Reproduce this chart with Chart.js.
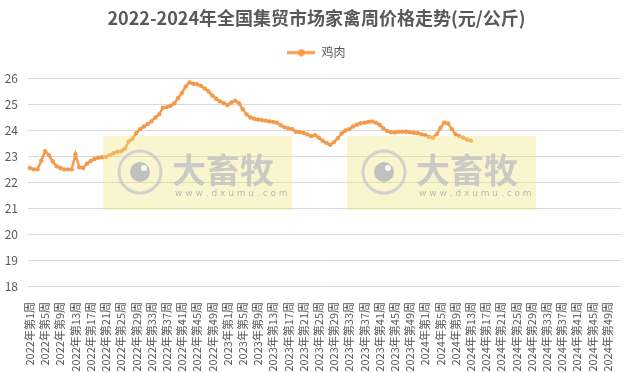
<!DOCTYPE html>
<html>
<head>
<meta charset="utf-8">
<title>2022-2024年全国集贸市场家禽周价格走势</title>
<script src="https://cdn.jsdelivr.net/npm/chart.js@4.4.1/dist/chart.umd.min.js"></script>
<style>
  html, body { margin: 0; padding: 0; background: #fff; }
</style>
</head>
<body>
<canvas id="price-chart" width="633" height="373"></canvas>
<script>
// Chart data
const years = [2022, 2023, 2024];
const weeksPerYear = 52;
const categories = [];
years.forEach(y => {
  for (let w = 1; w <= weeksPerYear; w++) categories.push(`${y}年第${w}周`);
});

const seriesName = '鸡肉';
// 2022 week 1 .. 2024 week 13
const chickenPrice = [
  22.55, 22.50, 22.50, 22.83, 23.20, 23.05, 22.80, 22.62, 22.55, 22.50,
  22.50, 22.50, 23.08, 22.58, 22.55, 22.72, 22.82, 22.90, 22.95, 22.97,
  22.98, 23.05, 23.12, 23.18, 23.20, 23.30, 23.58, 23.68, 23.90, 24.05,
  24.15, 24.25, 24.35, 24.50, 24.62, 24.88, 24.90, 24.95, 25.05, 25.25,
  25.45, 25.70, 25.85, 25.80, 25.78, 25.72, 25.62, 25.50, 25.35, 25.22,
  25.12, 25.05, 24.98, 25.08, 25.15, 25.05, 24.82, 24.62, 24.50, 24.45,
  24.42, 24.40, 24.38, 24.35, 24.33, 24.30, 24.20, 24.12, 24.08, 24.05,
  23.95, 23.94, 23.90, 23.85, 23.78, 23.82, 23.72, 23.60, 23.52, 23.45,
  23.55, 23.70, 23.88, 24.00, 24.05, 24.15, 24.22, 24.28, 24.30, 24.33,
  24.35, 24.30, 24.22, 24.08, 23.98, 23.93, 23.92, 23.95, 23.95, 23.95,
  23.93, 23.91, 23.90, 23.85, 23.82, 23.75, 23.72, 23.85, 24.10, 24.30,
  24.27, 24.05, 23.85, 23.78, 23.72, 23.65, 23.60
];

const yMin = 18;
const yMax = 26;
const yStep = 1;
const labelEvery = 4;

const lineColor = '#F5994A';
const textColor = '#595959';
const gridColor = '#D9D9D9';
const fontFamily = "'Noto Sans CJK SC', 'Noto Sans', sans-serif";

// Legend marker: short line with a dot in the middle
const legendMark = document.createElement('canvas');
legendMark.width = 28;
legendMark.height = 8;
const lg = legendMark.getContext('2d');
lg.strokeStyle = lineColor;
lg.lineWidth = 3;
lg.beginPath();
lg.moveTo(0, 4);
lg.lineTo(28, 4);
lg.stroke();
lg.fillStyle = lineColor;
lg.beginPath();
lg.arc(14, 4, 3.5, 0, Math.PI * 2);
lg.fill();

// Extra room under the legend
const legendSpacing = {
  id: 'legendSpacing',
  beforeInit(chart) {
    const fit = chart.legend.fit;
    chart.legend.fit = function () {
      fit.call(this);
      this.height += 10;
    };
  }
};

// Watermark stamps drawn over the plot
const watermarkPlugin = {
  id: 'watermark',
  afterDatasetsDraw(chart) {
    const ctx = chart.ctx;
    [103, 347].forEach(x0 => {
      const y0 = 136;
      ctx.save();
      ctx.fillStyle = 'rgba(240, 230, 130, 0.38)';
      ctx.fillRect(x0, y0, 189, 74);
      // logo
      ctx.strokeStyle = 'rgba(205, 205, 205, 0.9)';
      ctx.lineWidth = 3;
      ctx.beginPath();
      ctx.arc(x0 + 37, y0 + 36, 21, 0, Math.PI * 2);
      ctx.stroke();
      ctx.fillStyle = 'rgba(190, 190, 190, 0.95)';
      ctx.beginPath();
      ctx.arc(x0 + 37, y0 + 36, 10, 0, Math.PI * 2);
      ctx.fill();
      ctx.fillStyle = 'rgba(255, 255, 255, 0.9)';
      ctx.beginPath();
      ctx.arc(x0 + 41, y0 + 32, 3, 0, Math.PI * 2);
      ctx.fill();
      // name
      ctx.fillStyle = 'rgba(195, 195, 195, 0.85)';
      ctx.font = `bold 34px ${fontFamily}`;
      ctx.textBaseline = 'middle';
      ctx.textAlign = 'left';
      ctx.fillText('大畜牧', x0 + 69, y0 + 34);
      ctx.font = `9px 'DejaVu Sans', sans-serif`;
      ctx.fillStyle = 'rgba(180, 180, 180, 0.9)';
      ctx.fillText('w w w . d x u m u . c o m', x0 + 72, y0 + 58);
      ctx.restore();
    });
  }
};

const chart = new Chart(document.getElementById('price-chart'), {
  type: 'line',
  data: {
    labels: categories,
    datasets: [{
      label: seriesName,
      data: chickenPrice,
      borderColor: lineColor,
      backgroundColor: lineColor,
      borderWidth: 2.5,
      pointRadius: 2.2,
      pointBorderWidth: 0,
      pointBackgroundColor: lineColor,
      tension: 0
    }]
  },
  options: {
    responsive: false,
    animation: false,
    devicePixelRatio: 1,
    layout: {
      padding: { left: 0, right: 0, top: 0, bottom: 0 }
    },
    scales: {
      x: {
        offset: true,
        grid: { display: false },
        border: { display: false },
        afterFit: (scale) => { scale.height = 87; },
        ticks: {
          autoSkip: false,
          minRotation: 90,
          maxRotation: 90,
          padding: 8,
          color: textColor,
          font: { family: fontFamily, size: 11 },
          callback: (value, index) => (index % labelEvery === 0 ? categories[index] : null)
        }
      },
      y: {
        min: yMin,
        max: yMax,
        grid: { color: gridColor, drawTicks: false },
        border: { display: false },
        afterFit: (scale) => { scale.width = 28; },
        ticks: {
          stepSize: yStep,
          padding: 10,
          color: textColor,
          font: { family: fontFamily, size: 12 }
        }
      },
      // empty strip on the right so the plot stops short of the edge
      yRight: {
        position: 'right',
        min: yMin,
        max: yMax,
        grid: { display: false },
        border: { display: false },
        ticks: { display: false },
        afterFit: (scale) => { scale.width = 12; }
      }
    },
    plugins: {
      title: {
        display: true,
        text: '2022-2024年全国集贸市场家禽周价格走势(元/公斤)',
        color: textColor,
        font: { family: fontFamily, size: 18, weight: 'bold' },
        padding: { top: 7, bottom: 0 }
      },
      legend: {
        position: 'top',
        labels: {
          usePointStyle: true,
          pointStyle: legendMark,
          pointStyleWidth: 28,
          boxHeight: 8,
          color: textColor,
          font: { family: fontFamily, size: 12 },
          padding: 18
        }
      },
      tooltip: { enabled: false }
    }
  },
  plugins: [legendSpacing, watermarkPlugin]
});
</script>
</body>
</html>
